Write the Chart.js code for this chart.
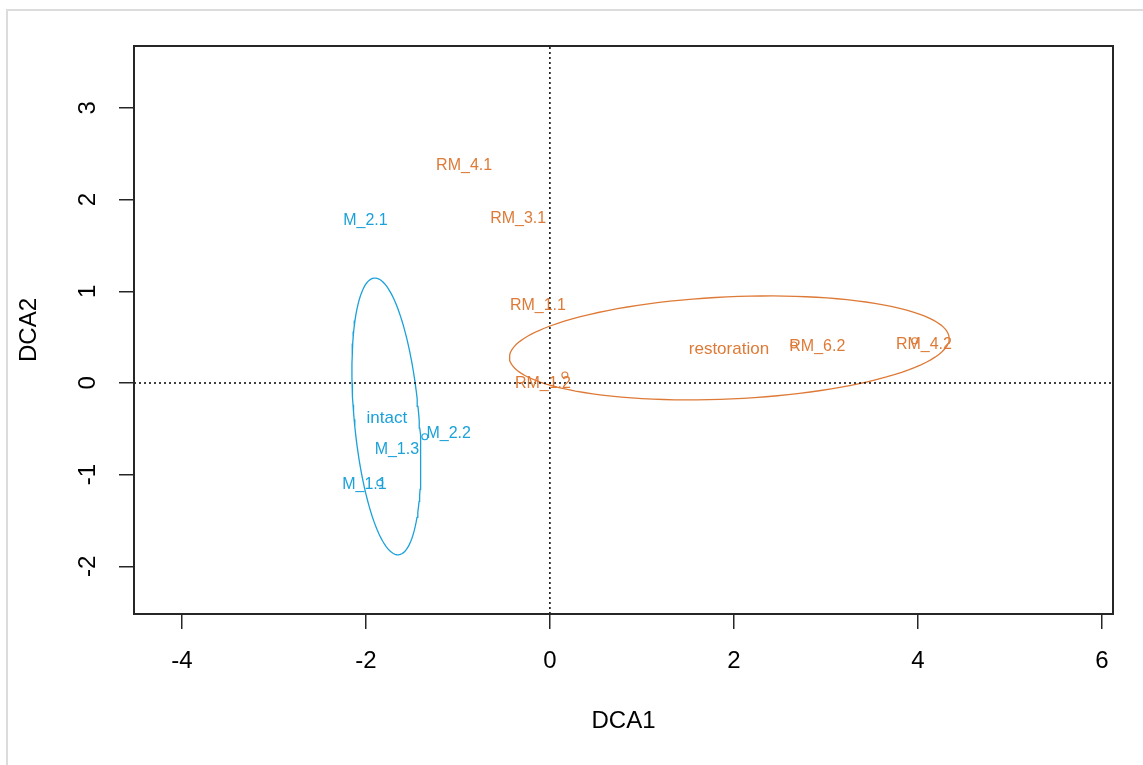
<!DOCTYPE html>
<html>
<head>
<meta charset="utf-8">
<title>DCA ordination</title>
<script src="https://cdn.jsdelivr.net/npm/chart.js@4/dist/chart.umd.min.js"></script>
<style>
  html, body { margin: 0; padding: 0; background: #ffffff; }
  #wrap { width: 1143px; height: 765px; position: relative; }
</style>
</head>
<body>
<div id="wrap"><canvas id="dca" width="1143" height="765"></canvas></div>
<script>
// Axis ticks and limits
const xTicks = [-4, -2, 0, 2, 4, 6];
const yTicks = [-2, -1, 0, 1, 2, 3];
const xLimits = [-4.52, 6.12];
const yLimits = [-2.52, 3.675];

// Site labels (DCA1, DCA2) and their treatment group (0 = intact, 1 = restoration)
const siteNames = ['M_2.1', 'RM_4.1', 'RM_3.1', 'RM_1.1', 'RM_1.2', 'RM_6.2', 'RM_4.2', 'M_2.2', 'M_1.3', 'M_1.1'];
const siteX = [-2.005, -0.932, -0.345, -0.130, -0.076, 2.906, 4.065, -1.100, -1.663, -2.016];
const siteY = [1.767, 2.366, 1.794, 0.840, -0.011, 0.396, 0.414, -0.550, -0.731, -1.107];
const siteGroup = [0, 1, 1, 1, 1, 1, 1, 0, 0, 0];

// Site point symbols
const pointX = [-1.848, -1.359, 0.163, 2.652, 3.967];
const pointY = [-1.090, -0.586, 0.087, 0.414, 0.461];
const pointGroup = [0, 0, 1, 1, 1];

// Groups: centroid label position and dispersion ellipse (centre, semi-axes, rotation in degrees)
const groupNames = ['intact', 'restoration'];
const groupLabelX = [-1.772, 1.946];
const groupLabelY = [-0.382, 0.365];
const ellipseCX = [-1.777, 1.950];
const ellipseCY = [-0.365, 0.382];
const ellipseA = [1.515, 2.392];
const ellipseB = [0.352, 0.557];
const ellipseAngle = [95, 2.6];
const groupColors = ['#1BA1D9', '#DE7A37'];

Chart.defaults.font.family = "'Liberation Sans', Arial, 'DejaVu Sans', sans-serif";
Chart.defaults.color = '#000000';

function ellipsePoints(g) {
  const pts = [];
  const th = ellipseAngle[g] * Math.PI / 180;
  const n = 120;
  for (let i = 0; i <= n; i++) {
    const t = 2 * Math.PI * i / n;
    const u = ellipseA[g] * Math.cos(t);
    const v = ellipseB[g] * Math.sin(t);
    pts.push({
      x: ellipseCX[g] + u * Math.cos(th) - v * Math.sin(th),
      y: ellipseCY[g] + u * Math.sin(th) + v * Math.cos(th)
    });
  }
  return pts;
}

const datasets = [];

// Dotted reference lines through the origin
datasets.push({
  type: 'scatter', showLine: true, pointRadius: 0,
  data: [{ x: 0, y: yLimits[0] }, { x: 0, y: yLimits[1] }],
  borderColor: '#000000', borderWidth: 1.5, borderDash: [2, 3]
});
datasets.push({
  type: 'scatter', showLine: true, pointRadius: 0,
  data: [{ x: xLimits[0], y: 0 }, { x: xLimits[1], y: 0 }],
  borderColor: '#000000', borderWidth: 1.5, borderDash: [2, 3]
});

// Group ellipses
groupNames.forEach((name, g) => {
  datasets.push({
    type: 'scatter', showLine: true, pointRadius: 0, tension: 0,
    data: ellipsePoints(g),
    borderColor: groupColors[g], borderWidth: 1.3
  });
});

// Site symbols (open circles)
datasets.push({
  type: 'scatter',
  data: pointX.map((x, i) => ({ x: x, y: pointY[i] })),
  pointRadius: 3, pointBorderWidth: 1.1,
  pointBackgroundColor: 'rgba(0,0,0,0)',
  pointBorderColor: pointGroup.map(g => groupColors[g]),
  showLine: false
});

const framePlugin = {
  id: 'frame',
  beforeDraw(chart) {
    const ctx = chart.ctx;
    ctx.save();
    ctx.fillStyle = '#ffffff';
    ctx.fillRect(0, 0, chart.width, chart.height);
    ctx.strokeStyle = '#dcdcdc';
    ctx.lineWidth = 2;
    ctx.beginPath();
    ctx.moveTo(7, chart.height);
    ctx.lineTo(7, 10);
    ctx.lineTo(chart.width, 10);
    ctx.stroke();
    ctx.restore();
  },
  afterDraw(chart) {
    const a = chart.chartArea;
    const ctx = chart.ctx;
    ctx.save();
    ctx.strokeStyle = '#262626';
    ctx.lineWidth = 2;
    ctx.strokeRect(a.left, a.top, a.right - a.left, a.bottom - a.top);
    ctx.restore();
  }
};

const labelPlugin = {
  id: 'siteLabels',
  afterDatasetsDraw(chart) {
    const ctx = chart.ctx;
    const xs = chart.scales.x, ys = chart.scales.y;
    ctx.save();
    ctx.textAlign = 'center';
    ctx.textBaseline = 'middle';
    ctx.font = "16px 'Liberation Sans', Arial, sans-serif";
    siteNames.forEach((s, i) => {
      ctx.fillStyle = groupColors[siteGroup[i]];
      ctx.fillText(s, xs.getPixelForValue(siteX[i]), ys.getPixelForValue(siteY[i]));
    });
    ctx.font = "17px 'Liberation Sans', Arial, sans-serif";
    groupNames.forEach((s, g) => {
      ctx.fillStyle = groupColors[g];
      ctx.fillText(s, xs.getPixelForValue(groupLabelX[g]), ys.getPixelForValue(groupLabelY[g]));
    });
    ctx.restore();
  }
};

new Chart(document.getElementById('dca'), {
  type: 'scatter',
  data: { datasets: datasets },
  plugins: [framePlugin, labelPlugin],
  options: {
    responsive: false,
    animation: false,
    devicePixelRatio: 1,
    layout: { padding: { left: 0, right: 30, top: 46, bottom: 0 } },
    plugins: { legend: { display: false }, tooltip: { enabled: false } },
    scales: {
      x: {
        type: 'linear', position: 'bottom',
        min: xLimits[0], max: xLimits[1],
        afterBuildTicks: s => { s.ticks = xTicks.map(v => ({ value: v })); },
        afterFit: s => { s.height = 151; },
        grid: { drawOnChartArea: false, drawTicks: true, tickLength: 15, color: '#262626', lineWidth: 1.5 },
        border: { display: false },
        ticks: { font: { size: 24 }, color: '#000000', padding: 18, autoSkip: false, maxRotation: 0 },
        title: { display: true, text: 'DCA1', font: { size: 24 }, color: '#000000', padding: { top: 0, bottom: 29 } }
      },
      y: {
        type: 'linear', position: 'left',
        min: yLimits[0], max: yLimits[1],
        afterBuildTicks: s => { s.ticks = yTicks.map(v => ({ value: v })); },
        afterFit: s => { s.width = 134; },
        grid: { drawOnChartArea: false, drawTicks: true, tickLength: 15, color: '#262626', lineWidth: 1.5 },
        border: { display: false },
        ticks: { font: { size: 24 }, color: '#000000', padding: 20, autoSkip: false, minRotation: 90, maxRotation: 90, crossAlign: 'center' },
        title: { display: true, text: 'DCA2', font: { size: 24 }, color: '#000000', padding: { top: 15, bottom: 0 } }
      }
    }
  }
});
</script>
</body>
</html>
